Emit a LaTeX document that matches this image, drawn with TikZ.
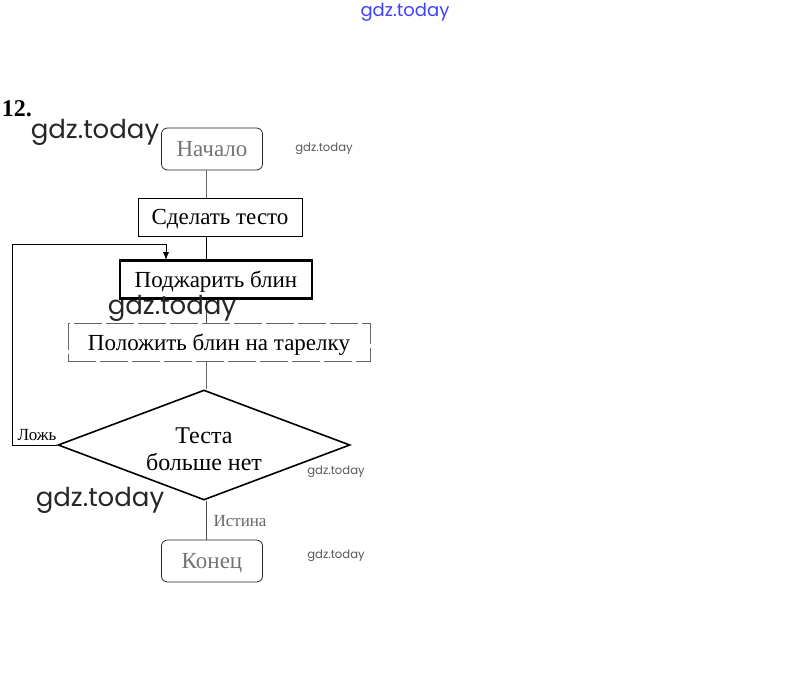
\documentclass[tikz,border=0pt]{standalone}
\usepackage{fontspec}
\setmainfont{Liberation Serif}
\newfontfamily\wmfont{Poppins}
\usetikzlibrary{arrows,shapes.geometric}

\begin{document}
\begin{tikzpicture}[x=0.5pt,y=-0.5pt]
\useasboundingbox (0,0) rectangle (809,676);
\tikzstyle{every node}=[inner sep=1pt]
\tikzstyle{term}=[draw=black!85,rounded corners=3pt,minimum width=50.5pt,minimum height=21pt,text=black!55,text depth=0pt,font=\fontsize{11.5}{13}\selectfont]
\tikzstyle{act}=[draw,minimum height=19pt,text depth=0pt,font=\fontsize{11.5}{13}\selectfont]
\tikzstyle{lbl}=[font=\fontsize{8.5}{10}\selectfont]
\tikzstyle{wmbig}=[text=black!85,font=\wmfont\fontsize{13}{13}\selectfont]
\tikzstyle{wmsmall}=[text=black!65,font=\wmfont\fontsize{5.8}{6}\selectfont]
% blocks
\draw (212,149) node (start) [term] {Начало};
\draw (220,217) node (dough) [act,minimum width=82pt] {Сделать тесто};
\draw (216,279.5) node (fry) [act,line width=1.1pt,minimum width=96pt] {Поджарить блин};
\draw (219,342.5) node (plate) [act,draw=black!60,dash pattern=on 14pt off 2pt,minimum width=151pt] {Положить блин на тарелку};
\draw (204,445) node (cond) [diamond,draw,line width=0.8pt,aspect=2.65,minimum width=146pt,minimum height=55pt,inner sep=0pt,align=center,font=\fontsize{12}{13.5}\selectfont] {\rule{0pt}{12pt}Теста\\больше нет};
\draw (212,561) node (stop) [term] {Конец};
\coordinate (spine) at (206,0);
\coordinate (lft) at (12,244);
\coordinate (back) at (166,260);
% connectors
\draw[black!60] (start.south -| spine) -- (dough.north -| spine);
\draw (dough.south -| spine) -- (fry.north -| spine);
\draw[black!70] (fry.south -| spine) -- (plate.north -| spine);
\draw[black!60] (plate.south -| spine) -- (cond.north -| spine);
\draw[black!70] (cond.south -| spine) -- (stop.north -| spine);
\draw[-latex] (cond.west) -| (lft) -| (back);
\draw (37,435) node (no) [lbl] {Ложь};
\draw (240,521) node (yes) [lbl,text=black!60] {Истина};
\draw (17,109) node (num) [font=\bfseries\fontsize{12}{13}\selectfont] {12.};
% watermarks
\draw (95,132) node (wm1) [wmbig] {gdz.today};
\draw (172,308) node (wm2) [wmbig] {gdz.today};
\draw (100,500) node (wm3) [wmbig] {gdz.today};
\draw (324,149) node (wm4) [wmsmall] {gdz.today};
\draw (336,472) node (wm5) [wmsmall] {gdz.today};
\draw (336,556) node (wm6) [wmsmall] {gdz.today};
\draw (405,12) node (wm7) [text=blue!75,font=\wmfont\fontsize{9}{9}\selectfont] {gdz.today};
\end{tikzpicture}
\end{document}
